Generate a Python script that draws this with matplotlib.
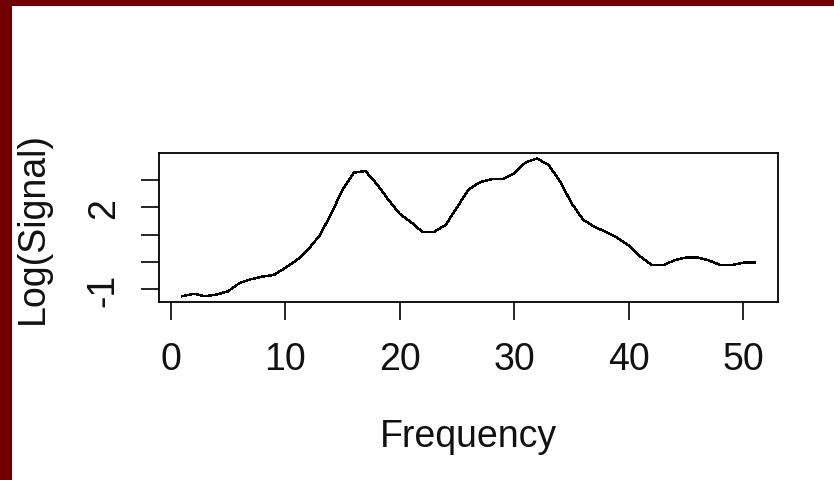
import numpy as np
import matplotlib
matplotlib.use("Agg")
from matplotlib import pyplot as plt
from matplotlib.patches import Rectangle

# spectrum, one value per frequency bin
frequency = np.arange(1, 52)
log_signal = [-1.26, -1.17, -1.26, -1.20, -1.08, -0.78, -0.64, -0.54, -0.48, -0.22,
              0.06, 0.45, 0.97, 1.75, 2.65, 3.27, 3.33, 2.85, 2.28, 1.76,
              1.45, 1.09, 1.10, 1.35, 2.00, 2.65, 2.92, 3.03, 3.03, 3.25,
              3.65, 3.79, 3.55, 2.95, 2.15, 1.55, 1.28, 1.10, 0.88, 0.60,
              0.20, -0.12, -0.12, 0.06, 0.16, 0.16, 0.05, -0.12, -0.12, -0.03,
              -0.03]

x_ticks = [0, 10, 20, 30, 40, 50]
y_ticks = [-1, 0, 1, 2, 3]
y_tick_labels = ["-1", "", "", "2", ""]

plt.rcParams["font.family"] = ["Liberation Sans", "DejaVu Sans"]

fig = plt.figure(figsize=(8.34, 4.81), dpi=100)
fig.patch.set_facecolor("white")

# dark red frame on the top and left edges
maroon = "#700000"
fig.patches.append(Rectangle((0, 1 - 7 / 481), 1, 7 / 481, transform=fig.transFigure,
                             facecolor=maroon, edgecolor="none", zorder=0))
fig.patches.append(Rectangle((0, 0), 12 / 834, 1, transform=fig.transFigure,
                             facecolor=maroon, edgecolor="none", zorder=0))

ax = fig.add_axes([159.3 / 834, 1 - 302.7 / 481, (777.7 - 159.3) / 834, (302.7 - 154) / 481])
ax.plot(frequency, log_signal, color="black", lw=1.0, antialiased=False)

# R style 4% padding on both axes
x_rng = frequency.max() - frequency.min()
y_rng = max(log_signal) - min(log_signal)
ax.set_xlim(frequency.min() - 0.04 * x_rng, frequency.max() + 0.04 * x_rng)
ax.set_ylim(min(log_signal) - 0.04 * y_rng, max(log_signal) + 0.04 * y_rng)

ax.set_xticks(x_ticks)
ax.set_xticklabels([str(t) for t in x_ticks])
ax.set_yticks(y_ticks)
ax.set_yticklabels(y_tick_labels, rotation=90, va="center")

ax.tick_params(axis="both", direction="out", length=13, width=1.2, labelsize=27,
               colors="black", labelcolor="#111111")
ax.tick_params(axis="x", pad=15)
ax.tick_params(axis="y", pad=14)
for sp in ax.spines.values():
    sp.set_linewidth(1.3)
    sp.set_color("black")

ax.set_xlabel("Frequency", fontsize=27, labelpad=30, color="#111111")
ax.set_ylabel("Log(Signal)", fontsize=27, labelpad=25, color="#111111")

fig.savefig("out.png", dpi=100, facecolor="white")
